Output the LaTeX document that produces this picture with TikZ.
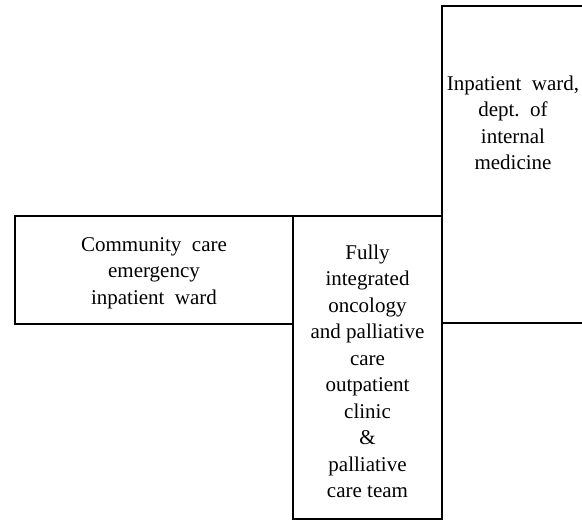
\documentclass[tikz,border=0pt]{standalone}
\usepackage{fontspec}
\setmainfont{Liberation Serif}

\begin{document}
\begin{tikzpicture}[x=1pt,y=-1pt]

\tikzset{line/.style={draw,line width=1.6pt}}
\tikzset{box/.style={rectangle,inner sep=0pt,align=center,font=\fontsize{21}{26.5}\selectfont}}

\useasboundingbox (0,0) rectangle (582,521);
\clip (0,0) rectangle (582,521);

\node[line,rectangle,minimum width=278pt,minimum height=108pt,label={[box,yshift=-3pt]center:Community\ \ care\\emergency\\inpatient\ \ ward}] (community) at (154,270) {};
\node[line,rectangle,minimum width=149pt,minimum height=303pt,label={[box,yshift=-4pt]center:Fully\\integrated\\oncology\\and palliative\\care\\outpatient\\clinic\\\&\\palliative\\care team}] (clinic) at (367.5,367.5) {};

\path[line] (442,6) rectangle (600,323);
\node[box] (internal) at (513,123) {Inpatient\ \ ward,\\dept.\ \ of\\internal\\medicine};

\end{tikzpicture}
\end{document}
